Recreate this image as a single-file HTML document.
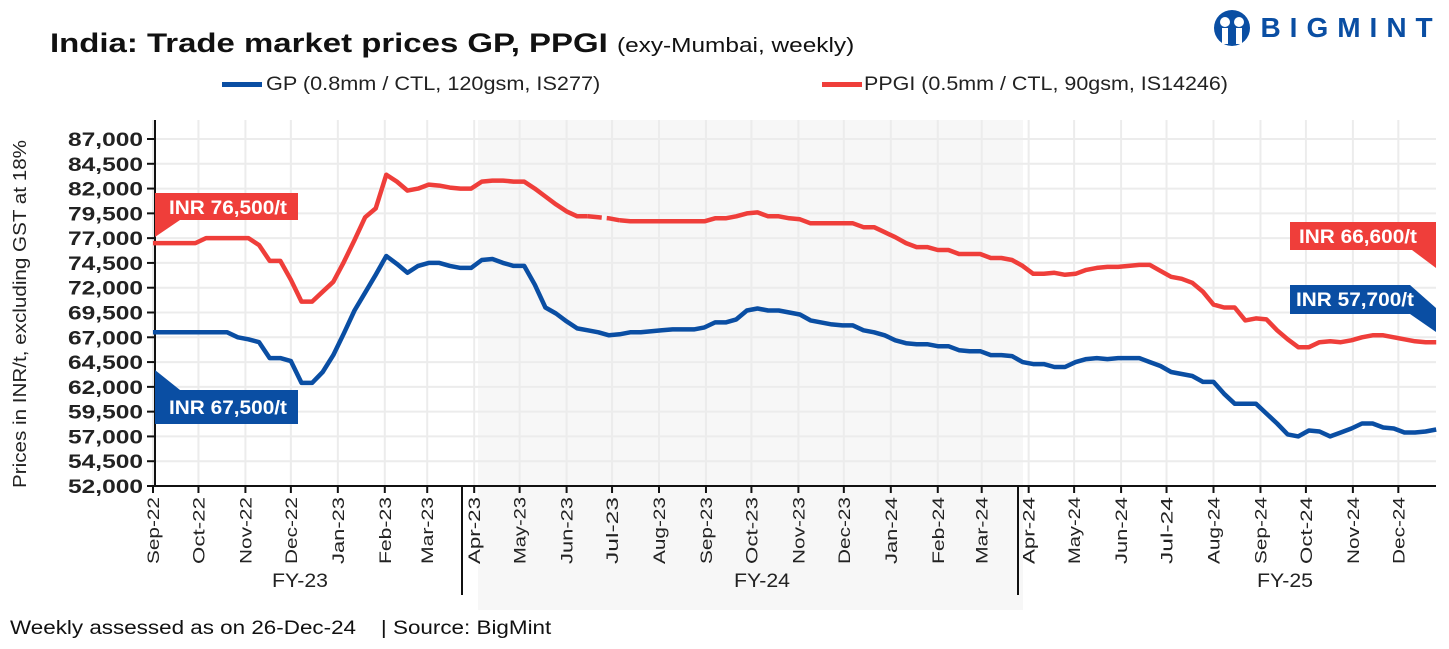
<!DOCTYPE html>
<html><head><meta charset="utf-8">
<style>
body{margin:0;background:#fff;font-family:"Liberation Sans",sans-serif;}
#wrap{position:relative;width:1449px;height:649px;overflow:hidden;}
svg text{font-family:"Liberation Sans",sans-serif;}
.sx{transform-origin:left center;}
</style></head>
<body>
<div id="wrap">
<svg id="chart" width="1449" height="649"></svg>
</div>
<script>
const gpValues=[67500,67500,67500,67500,67500,67500,67500,67500,67000,66800,66500,64900,64900,64600,62400,62400,63500,65200,67400,69700,71500,73300,75200,74400,73500,74200,74500,74500,74200,74000,74000,74800,74900,74500,74200,74200,72300,70000,69400,68600,67900,67700,67500,67200,67300,67500,67500,67600,67700,67800,67800,67800,68000,68500,68500,68800,69700,69900,69700,69700,69500,69300,68700,68500,68300,68200,68200,67700,67500,67200,66700,66400,66300,66300,66100,66100,65700,65600,65600,65200,65200,65100,64500,64300,64300,64000,64000,64500,64800,64900,64800,64900,64900,64900,64500,64100,63500,63300,63100,62500,62500,61300,60300,60300,60300,59300,58300,57200,57000,57600,57500,57000,57400,57800,58300,58300,57900,57800,57400,57400,57500,57700];
const ppgiValues=[76500,76500,76500,76500,76500,77000,77000,77000,77000,77000,76300,74700,74700,72800,70600,70600,71600,72600,74600,76800,79100,80000,83400,82700,81800,82000,82400,82300,82100,82000,82000,82700,82800,82800,82700,82700,82000,81200,80400,79700,79200,79200,79100,79000,78800,78700,78700,78700,78700,78700,78700,78700,78700,79000,79000,79200,79500,79600,79200,79200,79000,78900,78500,78500,78500,78500,78500,78100,78100,77600,77100,76500,76100,76100,75800,75800,75400,75400,75400,75000,75000,74800,74200,73400,73400,73500,73300,73400,73800,74000,74100,74100,74200,74300,74300,73700,73100,72900,72500,71600,70300,70000,70000,68700,68900,68800,67700,66800,66000,66000,66500,66600,66500,66700,67000,67200,67200,67000,66800,66600,66500,66500];
const yTicks=[52000,54500,57000,59500,62000,64500,67000,69500,72000,74500,77000,79500,82000,84500,87000];
const monthLabels=["Sep-22","Oct-22","Nov-22","Dec-22","Jan-23","Feb-23","Mar-23","Apr-23","May-23","Jun-23","Jul-23","Aug-23","Sep-23","Oct-23","Nov-23","Dec-23","Jan-24","Feb-24","Mar-24","Apr-24","May-24","Jun-24","Jul-24","Aug-24","Sep-24","Oct-24","Nov-24","Dec-24"];
const monthDays=[30,31,30,31,31,28,31,30,31,30,31,31,30,31,30,31,31,29,31,30,31,30,31,31,30,31,30,31];
const dashStart=41, dashEnd=44;

const svg=document.getElementById('chart');
const NS='http://www.w3.org/2000/svg';
const X0=153, PXD=1.515, Y0=486, YT=139;
function xDay(d){return X0+d*PXD;}
function xWeek(i){return xDay(i*7);}
function yVal(v){return Y0-(v-52000)/(87000-52000)*(Y0-YT);}
function mk(tag,attrs,parent){const e=document.createElementNS(NS,tag);for(const k in attrs)e.setAttribute(k,attrs[k]);(parent||svg).appendChild(e);return e;}
function txt(s,attrs){const e=mk('text',attrs);e.textContent=s;return e;}

let r=mk('rect',{x:478,y:120,width:545,height:490,fill:'#f7f7f7'});



const monthX=[];let acc=0;
for(let i=0;i<monthLabels.length;i++){monthX.push(xDay(acc));acc+=monthDays[i];}

const grid=mk('g',{stroke:'#ececec','stroke-width':2});


yTicks.forEach(v=>mk('line',{x1:155,x2:1436,y1:yVal(v),y2:yVal(v)},grid));
monthX.forEach(x=>mk('line',{x1:x,x2:x,y1:120,y2:486},grid));

yTicks.forEach(v=>{
  const y=yVal(v);
  mk('line',{x1:147,x2:155,y1:y,y2:y,stroke:'#111','stroke-width':2});
  const t=txt(v.toLocaleString('en-US'),{x:143,y:y+7,'text-anchor':'end','font-size':19,'font-weight':'bold',fill:'#222',textLength:75,lengthAdjust:'spacingAndGlyphs'});
  
  
});
mk('line',{x1:155,x2:155,y1:120,y2:487,stroke:'#111','stroke-width':2});
mk('line',{x1:153,x2:1436,y1:486,y2:486,stroke:'#111','stroke-width':2});
monthX.forEach((x,i)=>{
  mk('line',{x1:x,x2:x,y1:486,y2:493,stroke:'#111','stroke-width':2});
  const t=txt(monthLabels[i],{x:0,y:0,transform:`translate(${x+6},497) rotate(-90)`,'text-anchor':'end','font-size':17,fill:'#222',textLength:67,lengthAdjust:'spacingAndGlyphs'});
  
  
});
[462,1018].forEach(x=>mk('line',{x1:x,x2:x,y1:486,y2:595,stroke:'#111','stroke-width':2}));
[['FY-23',300],['FY-24',762],['FY-25',1285]].forEach(([s,x])=>{
  const t=txt(s,{x:x,y:587,'text-anchor':'middle','font-size':19,fill:'#222',textLength:56,lengthAdjust:'spacingAndGlyphs'});
  
  
});

function pathFrom(vals,a,b){let d='';for(let i=a;i<=b;i++){d+=(i===a?'M':'L')+xWeek(i).toFixed(1)+','+yVal(vals[i]).toFixed(1);}return d;}
let p=mk('path',{d:pathFrom(ppgiValues,0,dashStart),fill:'none',stroke:'#ef3e3a','stroke-width':4.5,'stroke-linejoin':'round'});


p=mk('path',{d:pathFrom(ppgiValues,dashStart,dashEnd),fill:'none',stroke:'#ef3e3a','stroke-width':4.5,'stroke-dasharray':'14 5'});


p=mk('path',{d:pathFrom(ppgiValues,dashEnd,ppgiValues.length-1),fill:'none',stroke:'#ef3e3a','stroke-width':4.5,'stroke-linejoin':'round'});


p=mk('path',{d:pathFrom(gpValues,0,gpValues.length-1),fill:'none',stroke:'#0a4ea3','stroke-width':4.5,'stroke-linejoin':'round'});



function callout(name,pts,color,label,tx,ty){
  const g=mk('g',{});
  
  
  mk('polygon',{points:pts,fill:color},g);
  const t=mk('text',{x:tx,y:ty,'text-anchor':'middle','font-size':19,'font-weight':'bold',fill:'#fff',textLength:118,lengthAdjust:'spacingAndGlyphs'},g);
  t.textContent=label;
}
callout('gp-start-callout','155,370 180,390 298,390 298,424 155,424','#0a4ea3','INR 67,500/t',228,414);
callout('ppgi-start-callout','155,193 298,193 298,220 180,220 155,237','#ef3e3a','INR 76,500/t',228,214);
callout('ppgi-end-callout','1290,222 1436,222 1436,268 1412,250 1290,250','#ef3e3a','INR 66,600/t',1358,243);
callout('gp-end-callout','1290,285 1410,285 1436,308 1436,332 1410,314 1290,314','#0a4ea3','INR 57,700/t',1355,306);

const yt=txt('Prices in INR/t, excluding GST at 18%',{x:0,y:0,transform:'translate(26,314) rotate(-90)','text-anchor':'middle','font-size':18,fill:'#222',textLength:348,lengthAdjust:'spacingAndGlyphs'});


</script>
<div class="sx" style="position:absolute;left:50px;top:28px;font-size:27px;font-weight:bold;color:#111;white-space:nowrap;transform:scaleX(1.22);">India: Trade market prices GP, PPGI <span style="font-size:20px;font-weight:normal;">(exy-Mumbai, weekly)</span></div>
<div style="position:absolute;left:222px;top:74px;font-size:19px;color:#222;white-space:nowrap;"><span style="display:inline-block;width:40px;height:5px;background:#0a4ea3;vertical-align:middle;margin-right:4px;"></span><span class="sx" style="display:inline-block;transform:scaleX(1.14);">GP (0.8mm / CTL, 120gsm, IS277)</span></div>
<div style="position:absolute;left:822px;top:74px;font-size:19px;color:#222;white-space:nowrap;"><span style="display:inline-block;width:40px;height:5px;background:#ef3e3a;vertical-align:middle;margin-right:2px;"></span><span class="sx" style="display:inline-block;transform:scaleX(1.13);">PPGI (0.5mm / CTL, 90gsm, IS14246)</span></div>
<div style="position:absolute;left:1212px;top:9px;white-space:nowrap;">
<svg width="40" height="38" style="vertical-align:middle"><circle cx="20" cy="19" r="18" fill="#0a4ea3"/><circle cx="13" cy="13" r="5" fill="#fff"/><circle cx="27" cy="13" r="5" fill="#fff"/><rect x="10" y="19" width="6" height="16" fill="#fff"/><rect x="24" y="19" width="6" height="16" fill="#fff"/></svg>
<span style="font-size:28px;font-weight:bold;color:#0a4ea3;letter-spacing:9px;vertical-align:middle;margin-left:4px;">BIGMINT</span></div>
<div class="sx" style="position:absolute;left:10px;top:618px;font-size:19px;color:#111;white-space:nowrap;transform:scaleX(1.18);">Weekly assessed as on 26-Dec-24 &nbsp;&nbsp;&nbsp;| Source: BigMint</div>
</body></html>
